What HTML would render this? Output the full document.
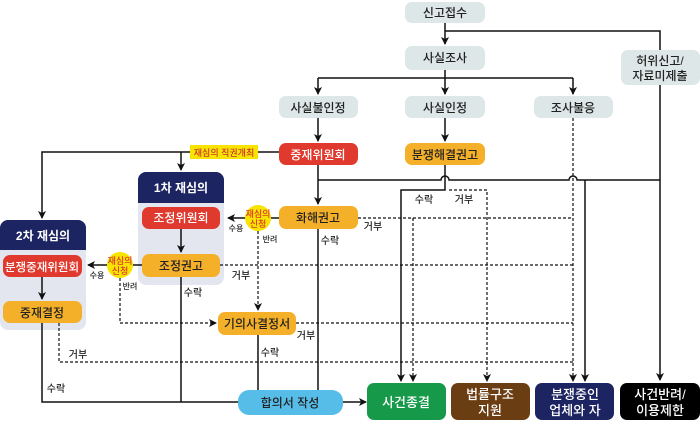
<!DOCTYPE html>
<html><head><meta charset="utf-8"><style>
body{margin:0;background:#fff;width:700px;height:420px;overflow:hidden}
text{font-family:"Liberation Sans","Noto Sans CJK KR",sans-serif}
</style></head><body>
<svg width="700" height="420" viewBox="0 0 700 420" xmlns="http://www.w3.org/2000/svg">
<defs><marker id="a" markerWidth="8" markerHeight="8" refX="7" refY="4" orient="auto" markerUnits="userSpaceOnUse"><path d="M0,0 L8,4 L0,8 L2,4z" fill="#111"/></marker></defs>
<rect x="138" y="172" width="86" height="113" rx="8" fill="#e3e6ef"/>
<path d="M138,203 V180 a8,8 0 0 1 8,-8 H216 a8,8 0 0 1 8,8 V203z" fill="#1c2461"/>
<rect x="0" y="220" width="86" height="110" rx="8" fill="#e3e6ef"/>
<path d="M0,250 V228 a8,8 0 0 1 8,-8 H78 a8,8 0 0 1 8,8 V250z" fill="#1c2461"/>
<g stroke="#111" stroke-width="1.5" fill="none">
<path d="M445,23 V44" marker-end="url(#a)"/>
<path d="M445,31 H660 V380" marker-end="url(#a)"/>
<path d="M445,70 V94" marker-end="url(#a)"/>
<path d="M318,78 H573"/>
<path d="M318,78 V94" marker-end="url(#a)"/><path d="M573,78 V94" marker-end="url(#a)"/>
<path d="M318,118 V141" marker-end="url(#a)"/><path d="M445,118 V141" marker-end="url(#a)"/>
<path d="M318,165 V204" marker-end="url(#a)"/>
<path d="M318,180 H441 a4,4 0 0 1 8,0 H569 a4,4 0 0 1 8,0 H660"/>
<path d="M585,180 V381" marker-end="url(#a)"/>
<path d="M445,165 V190 H401 V381" marker-end="url(#a)"/>
<path d="M279,152 H42 V218" marker-end="url(#a)"/>
<path d="M181,152 V170" marker-end="url(#a)"/>
<path d="M181,229 V252" marker-end="url(#a)"/>
<path d="M42,277 V299" marker-end="url(#a)"/>
<path d="M279,218 H228" marker-end="url(#a)"/>
<path d="M142,265 H88" marker-end="url(#a)"/>
<path d="M318,228 V390"/>
<path d="M258,335 V390"/>
<path d="M181,277 V402"/>
<path d="M42,323 V402 H238"/>
<path d="M343,402 H366" marker-end="url(#a)"/>
</g>
<g stroke="#111" stroke-width="1.2" fill="none" stroke-dasharray="3,2">
<path d="M449,190 H487 V381" marker-end="url(#a)"/>
<path d="M573,118 V381" marker-end="url(#a)"/>
<path d="M358,218 H573"/>
<path d="M413,218 V381" marker-end="url(#a)"/>
<path d="M220,265 H573"/>
<path d="M296,323 H573"/>
<path d="M59,323 V362 H573"/>
<path d="M258,231 V310" marker-end="url(#a)"/>
<path d="M120,278 V323 H216" marker-end="url(#a)"/>
</g>
<g fill="#dde7e8"><rect x="405" y="2" width="80" height="21" rx="7"/><rect x="405" y="46" width="80" height="24" rx="7"/>
<rect x="279" y="96" width="79" height="22" rx="7"/><rect x="405" y="96" width="80" height="22" rx="7"/><rect x="534" y="96" width="79" height="22" rx="7"/><rect x="621" y="50" width="79" height="35" rx="7"/></g>
<rect x="279" y="143" width="79" height="22" rx="7" fill="#e03a2e"/>
<rect x="405" y="143" width="80" height="22" rx="7" fill="#f5b02a"/>
<rect x="279" y="206" width="79" height="23" rx="7" fill="#f5b02a"/>
<rect x="142" y="207" width="78" height="22" rx="7" fill="#e03a2e"/>
<rect x="142" y="254" width="78" height="23" rx="7" fill="#f5b02a"/>
<rect x="3" y="255" width="79" height="22" rx="7" fill="#e03a2e"/>
<rect x="3" y="301" width="79" height="22" rx="7" fill="#f5b02a"/>
<rect x="218" y="312" width="78" height="23" rx="7" fill="#f5b02a"/>
<rect x="238" y="390" width="105" height="25" rx="11" fill="#56bde9"/>
<rect x="367" y="383" width="79" height="37" rx="7" fill="#17994a"/>
<rect x="451" y="383" width="79" height="37" rx="7" fill="#6b3d12"/>
<rect x="535" y="383" width="79" height="37" rx="7" fill="#1c2461"/>
<rect x="620" y="383" width="80" height="37" rx="7" fill="#000"/>
<rect x="190" y="145" width="68" height="14" fill="#f7e400"/>
<circle cx="258" cy="218" r="13" fill="#f7e400"/>
<circle cx="120" cy="265" r="13" fill="#f7e400"/>
<g font-size="12" text-anchor="middle" fill="#222" font-weight="500">
<text x="445" y="17">신고접수</text><text x="445" y="62">사실조사</text>
<text x="318" y="112">사실불인정</text><text x="445" y="112">사실인정</text><text x="573" y="112">조사불응</text>
<text x="660" y="65">허위신고/</text><text x="660" y="80">자료미제출</text>
<text x="318" y="159" fill="#fff">중재위원회</text><text x="445" y="159">분쟁해결권고</text>
<text x="318" y="222">화해권고</text><text x="181" y="222" fill="#fff">조정위원회</text>
<text x="181" y="270">조정권고</text><text x="42" y="271" fill="#fff" font-size="11.5">분쟁중재위원회</text>
<text x="42" y="317">중재결정</text><text x="257" y="328">기의사결정서</text>
<text x="290" y="407">합의서 작성</text>
<text x="181" y="192" fill="#fff" font-weight="bold">1차 재심의</text>
<text x="43" y="240" fill="#fff" font-weight="bold">2차 재심의</text>
<g font-size="13" fill="#fff"><text x="406" y="407">사건종결</text><text x="490" y="399">법률구조</text><text x="490" y="415">지원</text>
<text x="575" y="399">분쟁중인</text><text x="575" y="415">업체와 자</text><text x="660" y="399">사건반려/</text><text x="660" y="415">이용제한</text></g>
<text x="224" y="156" font-size="9" fill="#c33">재심의 직권개최</text>
<g font-size="9" fill="#d33"><text x="258" y="217">재심의</text><text x="258" y="227">신청</text><text x="120" y="264">재심의</text><text x="120" y="274">신청</text></g>
<g font-size="8"><text x="236" y="231">수용</text><text x="270" y="242">반려</text><text x="97" y="278">수용</text><text x="130" y="289">반려</text></g>
<g font-size="10"><text x="193" y="296">수락</text><text x="330" y="244">수락</text><text x="270" y="356">수락</text><text x="56" y="392">수락</text>
<text x="78" y="358">거부</text><text x="241" y="279">거부</text><text x="306" y="339">거부</text><text x="373" y="230">거부</text>
<text x="424" y="203">수락</text><text x="464" y="203">거부</text></g>
</g>
</svg>
</body></html>
